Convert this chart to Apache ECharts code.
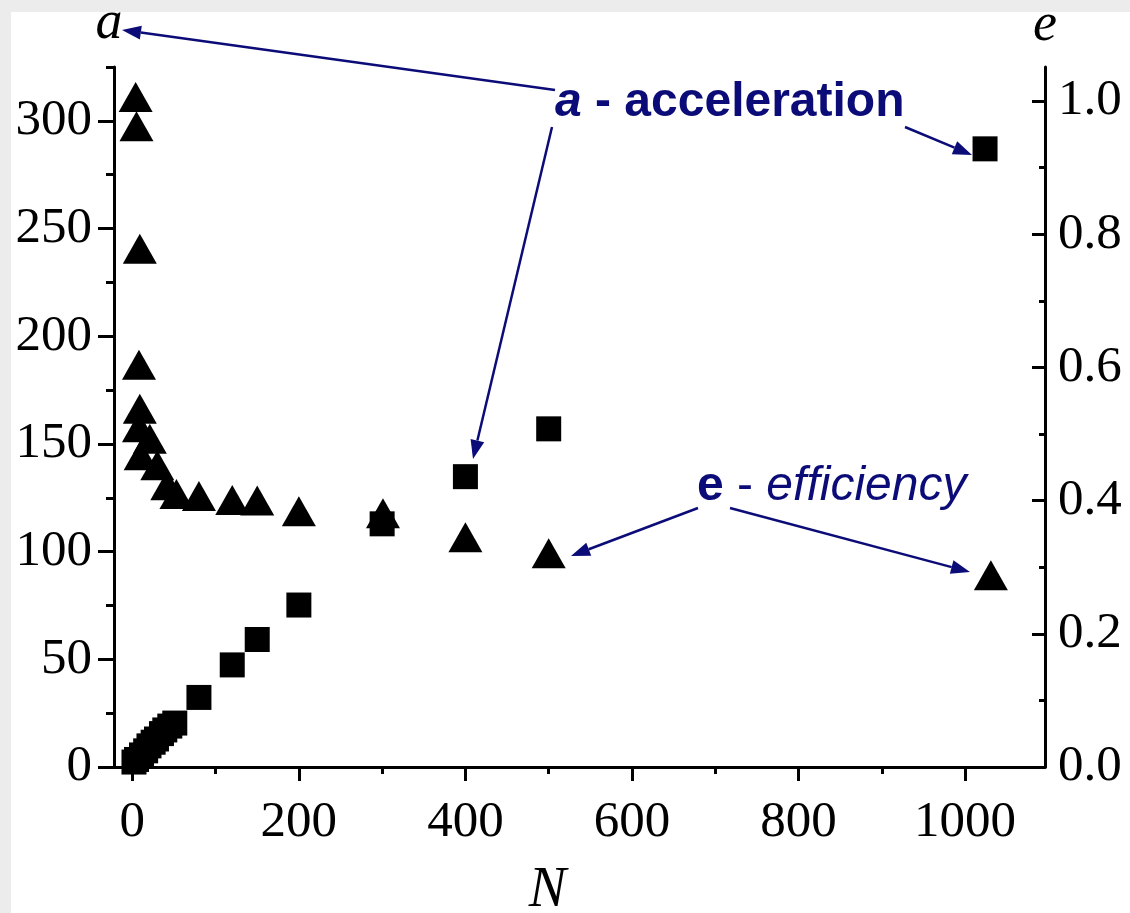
<!DOCTYPE html>
<html>
<head>
<meta charset="utf-8">
<title>acceleration / efficiency</title>
<script src="https://cdn.jsdelivr.net/npm/echarts@6/dist/echarts.min.js"></script>
<style>
  html, body { margin: 0; padding: 0; background: #ececec; }
  #main { width: 1130px; height: 913px; }
</style>
</head>
<body>
<div id="main"></div>
<script>
// squares: a - acceleration (left axis)
var accN = [2, 5, 11, 16, 20, 25, 29, 35, 39, 45, 51, 80, 120, 150, 200, 300, 400, 500, 1024];
var accVal = [2.3, 3.5, 5.6, 7.5, 9.8, 11.5, 13, 15.5, 17.2, 19, 20.4, 32.3, 47.4, 59.2, 75.2, 112.9, 134.8, 157, 287];

// triangles: e - efficiency (right axis)
var effN = [4, 5, 9, 8, 9, 8, 21, 10, 30, 42, 53, 80, 120, 150, 200, 301, 400, 500, 1031];
var effVal = [1.006, 0.962, 0.778, 0.604, 0.538, 0.51, 0.493, 0.468, 0.453, 0.423, 0.41, 0.407, 0.401, 0.4, 0.384, 0.381, 0.345, 0.321, 0.288];

// tick labels
var xMajor = [0, 200, 400, 600, 800, 1000];
var xMinor = [100, 300, 500, 700, 900];
var aMajor = [0, 50, 100, 150, 200, 250, 300];
var aMinor = [25, 75, 125, 175, 225, 275, 325];
var eMajor = [0, 0.2, 0.4, 0.6, 0.8, 1.0];
var eMinor = [0.1, 0.3, 0.5, 0.7, 0.9];

var INK = '#000';
var NAVY = '#0c0c78';
var SERIF = 'Liberation Serif';

var myChart = echarts.init(document.getElementById('main'));

function zip(xs, ys) {
  return xs.map(function (x, i) { return [x, ys[i]]; });
}

// arrow = line + filled head, tip at (x2, y2)
function arrow(x1, y1, x2, y2) {
  var ang = Math.atan2(y2 - y1, x2 - x1);
  var L = 19, W = 7;
  var bx = x2 - L * Math.cos(ang), by = y2 - L * Math.sin(ang);
  var sx = W * Math.sin(ang), sy = W * Math.cos(ang);
  return [
    { type: 'line', shape: { x1: x1, y1: y1, x2: bx, y2: by },
      style: { stroke: NAVY, lineWidth: 2.5 }, z: 10 },
    { type: 'polygon', shape: { points: [[x2, y2], [bx + sx, by - sy], [bx - sx, by + sy]] },
      style: { fill: NAVY }, z: 10 }
  ];
}

var lineStyle = { color: INK, width: 3 };
var labelFont = { color: INK, fontFamily: SERIF, fontSize: 51 };

var xRange = { min: -22, max: 1096 };
var aRange = { min: 0, max: 325 };
var eRange = { min: 0, max: 1.051 };

var option = {
  backgroundColor: '#ececec',
  animation: false,
  grid: { left: 114, right: 85, top: 67, bottom: 146, outerBoundsMode: 'none', containLabel: false },
  xAxis: [
    {
      type: 'value', min: xRange.min, max: xRange.max, position: 'bottom',
      axisLine: { onZero: false, lineStyle: lineStyle },
      axisTick: { customValues: xMajor, length: 14, lineStyle: lineStyle },
      axisLabel: Object.assign({
        customValues: xMajor, margin: 30,
        formatter: function (v) { return String(v); }
      }, labelFont),
      splitLine: { show: false },
      name: 'N', nameLocation: 'middle', nameGap: 96,
      nameTextStyle: { color: INK, fontFamily: SERIF, fontStyle: 'italic', fontSize: 56, padding: [0, 64, 0, 0] }
    },
    {
      type: 'value', min: xRange.min, max: xRange.max, position: 'bottom',
      axisLine: { show: false, onZero: false },
      axisTick: { customValues: xMinor, length: 7, lineStyle: lineStyle },
      axisLabel: { show: false },
      splitLine: { show: false }
    }
  ],
  yAxis: [
    {
      type: 'value', min: aRange.min, max: aRange.max, position: 'left',
      axisLine: { onZero: false, lineStyle: lineStyle },
      axisTick: { customValues: aMajor, length: 16, lineStyle: lineStyle },
      axisLabel: Object.assign({ customValues: aMajor, margin: 22 }, labelFont),
      splitLine: { show: false },
      name: 'a', nameLocation: 'end', nameGap: 16,
      nameTextStyle: { color: INK, fontFamily: SERIF, fontStyle: 'italic', fontSize: 54, padding: [0, 10, 0, 0] }
    },
    {
      type: 'value', min: eRange.min, max: eRange.max, position: 'right',
      axisLine: { onZero: false, lineStyle: lineStyle },
      axisTick: { customValues: eMajor, inside: true, length: 13, lineStyle: lineStyle },
      axisLabel: Object.assign({
        customValues: eMajor, margin: 13,
        formatter: function (v) { return v.toFixed(1); }
      }, labelFont),
      splitLine: { show: false },
      name: 'e', nameLocation: 'end', nameGap: 14,
      nameTextStyle: { color: INK, fontFamily: SERIF, fontStyle: 'italic', fontSize: 54 }
    },
    {
      type: 'value', min: aRange.min, max: aRange.max, position: 'left',
      axisLine: { show: false, onZero: false },
      axisTick: { customValues: aMinor, length: 8, lineStyle: lineStyle },
      axisLabel: { show: false },
      splitLine: { show: false }
    },
    {
      type: 'value', min: eRange.min, max: eRange.max, position: 'right',
      axisLine: { show: false, onZero: false },
      axisTick: { customValues: eMinor, inside: true, length: 6, lineStyle: lineStyle },
      axisLabel: { show: false },
      splitLine: { show: false }
    }
  ],
  series: [
    {
      name: 'a - acceleration', type: 'scatter',
      xAxisIndex: 0, yAxisIndex: 0,
      symbol: 'rect', symbolSize: 25,
      itemStyle: { color: '#000', opacity: 1 },
      data: zip(accN, accVal)
    },
    {
      name: 'e - efficiency', type: 'scatter',
      xAxisIndex: 0, yAxisIndex: 1,
      symbol: 'triangle', symbolSize: [34, 30],
      itemStyle: { color: '#000', opacity: 1 },
      data: zip(effN, effVal)
    }
  ],
  graphic: [
    // white sheet of the figure
    { type: 'rect', shape: { x: 11, y: 12, width: 1130, height: 913 }, style: { fill: '#fff' }, z: -100, silent: true },
    {
      type: 'text', x: 555, y: 103, z: 10,
      style: {
        text: '{ai|a}{b| - acceleration}',
        verticalAlign: 'middle', align: 'left',
        rich: {
          ai: { fontFamily: 'Liberation Sans', fontWeight: 'bold', fontStyle: 'italic', fontSize: 48, fill: NAVY },
          b: { fontFamily: 'Liberation Sans', fontWeight: 'bold', fontSize: 48, fill: NAVY }
        }
      }
    },
    {
      type: 'text', x: 697, y: 487, z: 10,
      style: {
        text: '{b|e}{n| - }{i|efficiency}',
        verticalAlign: 'middle', align: 'left',
        rich: {
          b: { fontFamily: 'Liberation Sans', fontWeight: 'bold', fontSize: 48, fill: NAVY },
          n: { fontFamily: 'Liberation Sans', fontSize: 48, fill: NAVY },
          i: { fontFamily: 'Liberation Sans', fontStyle: 'italic', fontSize: 48, fill: NAVY }
        }
      }
    }
  ]
    .concat(arrow(555, 90, 122, 30))
    .concat(arrow(552, 127, 473, 459))
    .concat(arrow(905, 127, 972, 155))
    .concat(arrow(698, 508, 571, 556))
    .concat(arrow(730, 508, 970, 572))
};

myChart.setOption(option);

window.addEventListener('resize', function () {
  myChart.resize();
});
</script>
</body>
</html>
